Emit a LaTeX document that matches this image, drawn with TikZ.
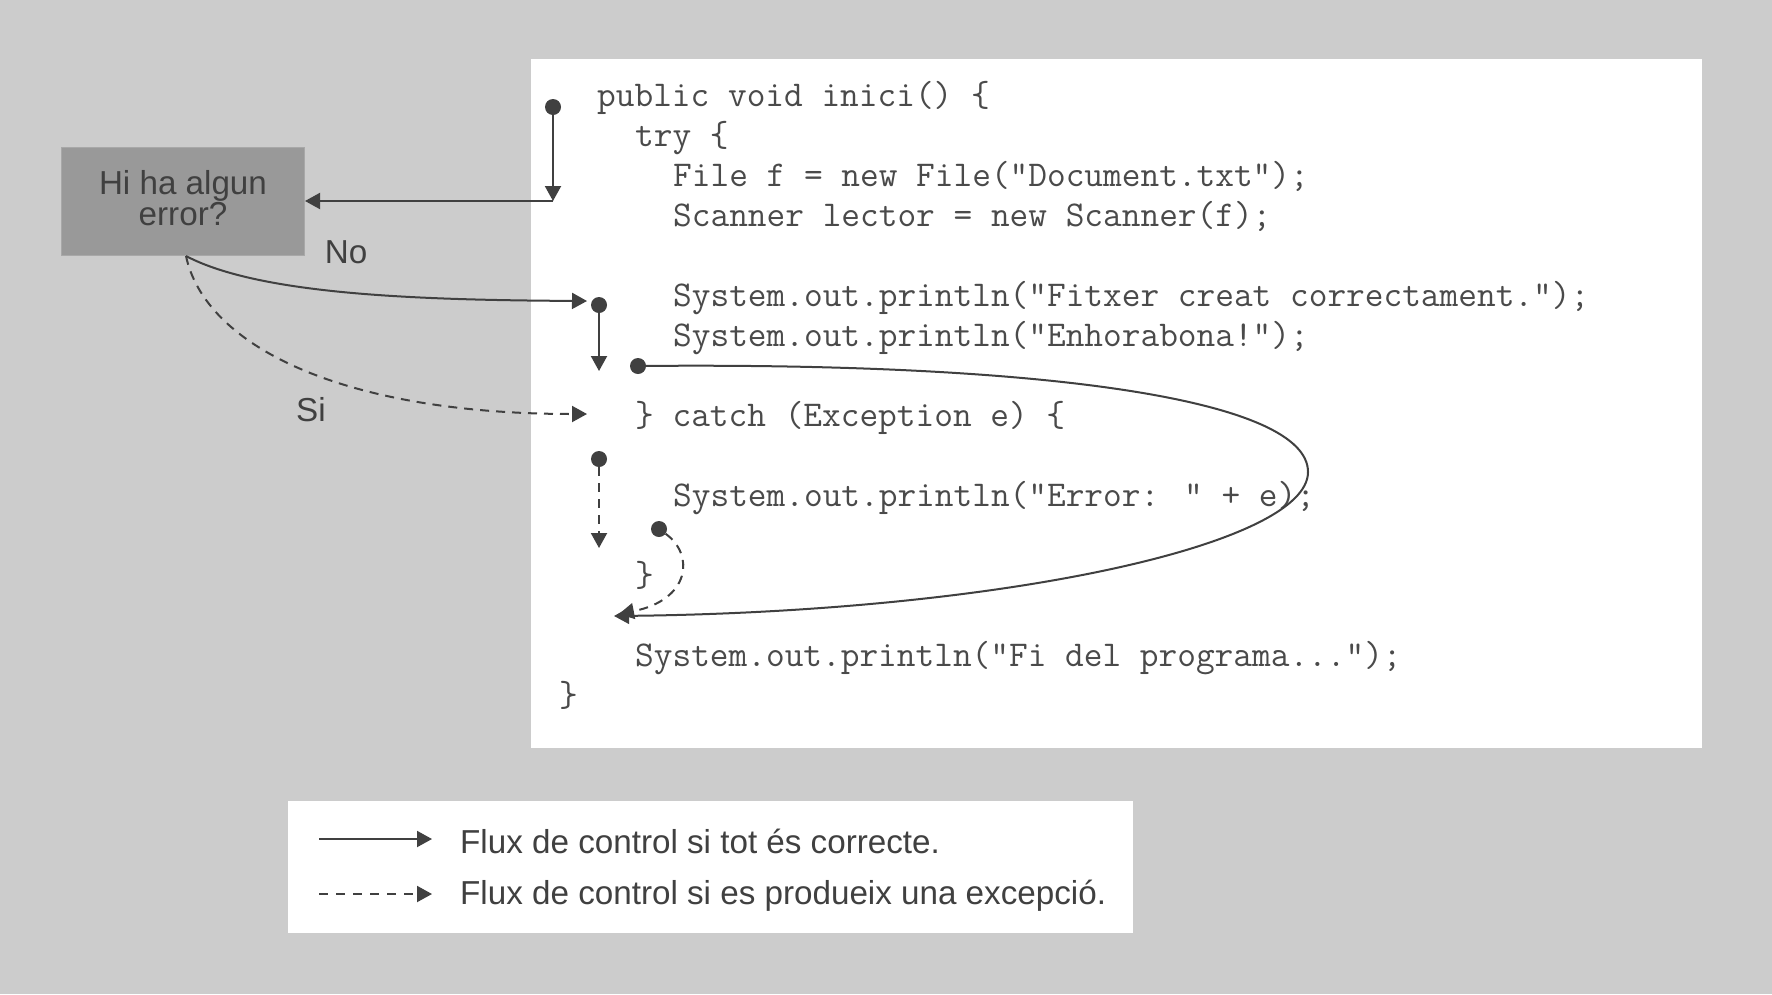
\documentclass[tikz,border=0pt]{standalone}
\usepackage{fontspec}
\setmainfont{Liberation Sans}
\usetikzlibrary{arrows.meta}
\definecolor{bg}{HTML}{CCCCCC}
\definecolor{boxfill}{HTML}{999999}
\definecolor{boxedge}{HTML}{A8A8A8}
\definecolor{ink}{HTML}{404040}
\definecolor{codeink}{HTML}{4A4A4A}
\begin{document}
\begin{tikzpicture}[x=1pt,y=-1pt,
  flow/.style={draw=ink, line width=2pt, -{Triangle[length=15pt,width=16pt]}},
  exflow/.style={flow, dash pattern=on 9pt off 7pt},
  plainline/.style={draw=ink, line width=2pt},
  dot/.style={circle, fill=ink, inner sep=0pt, minimum size=16pt},
  code/.style={anchor=base west, inner sep=0pt, text=codeink, font=\ttfamily\fontsize{36.3}{36.3}\selectfont},
  lbl/.style={text=ink, inner sep=0pt, font=\fontsize{33.2}{33}\selectfont},
]
\useasboundingbox (0,0) rectangle (1772,994);
\fill[bg] (0,0) rectangle (1772,994);

% panels
\node[fill=white, anchor=north west, inner sep=0pt, minimum width=1171pt, minimum height=689pt] (panel) at (531,59) {};
\node[fill=white, anchor=north west, inner sep=0pt, minimum width=845pt, minimum height=132pt] (legend) at (288,801) {};

% question box
\node[fill=boxfill, draw=boxedge, line width=1pt, anchor=north west, minimum width=243pt, minimum height=108pt] (q) at (61,147) {};
\node[text=ink, align=center, inner sep=0pt, font=\fontsize{33.2}{31}\selectfont] (qt) at ([yshift=3pt]q.center) {Hi ha algun\\error?};

% code
\node[code] (l1) at (597,106) {public void inici() \{};
\node[code] (l2) at (635,146) {try \{};
\node[code] (l3) at (673,186) {File f = new File("Document.txt");};
\node[code] (l4) at (673,226) {Scanner lector = new Scanner(f);};
\node[code] (l6) at (673,306) {System.out.println("Fitxer creat correctament.");};
\node[code] (l7) at (673,346) {System.out.println("Enhorabona!");};
\node[code] (l9) at (635,426) {\} catch (Exception e) \{};
\node[code] (l11) at (673,506) {System.out.println("Error: " + e);};
\node[code] (l13) at (635,586) {\}};
\node[code] (l15) at (635,666) {System.out.println("Fi del programa...");};
\node[code] (l16) at (559,706) {\}};

% dots
\node[dot] (d1) at (553,107) {};
\node[dot] (d2) at (599,305) {};
\node[dot] (d3) at (638,366) {};
\node[dot] (d4) at (599,459) {};
\node[dot] (d5) at (659,529) {};

% coordinates
\coordinate (c1) at (553,201);
\coordinate (qb) at (186,256);
\coordinate (noend) at (587,301);
\coordinate (siend) at (587,414);
\coordinate (c2) at (599,371);
\coordinate (c4) at (599,548);
\coordinate (right) at (1308,472);
\coordinate (fin) at (614,616);
\coordinate (fin2) at (619,614);

% connectors
\draw[flow] (d1) -- (c1);
\draw[flow] (c1) -- (q.east |- c1);
\draw[flow] (qb) .. controls (260,295) and (420,300) .. (noend);
\draw[exflow] (qb) .. controls (205,345) and (340,414) .. (siend);
\draw[flow] (d2) -- (c2);
\draw[exflow] (d4) -- (c4);
\draw[plainline] (d3.center) .. controls (1050,362) and (1308,400) .. (right);
\draw[flow] (right) .. controls (1308,545) and (1000,612) .. (fin);
\draw[exflow] (d5) .. controls (695,555) and (690,600) .. (fin2);

% labels
\node[lbl] (no) at (346,252) {No};
\node[lbl] (si) at (311,410) {Si};

% legend
\coordinate (ls1) at (319,839);
\coordinate (le1) at (432,839);
\coordinate (ls2) at (319,894);
\coordinate (le2) at (432,894);
\draw[flow] (ls1) -- (le1);
\draw[flow, dash pattern=on 9pt off 8pt] (ls2) -- (le2);
\node[lbl, anchor=west] (t1) at (460,841) {Flux de control si tot és correcte.};
\node[lbl, anchor=west] (t2) at (460,896) {Flux de control si es produeix una excepció.};
\end{tikzpicture}
\end{document}
